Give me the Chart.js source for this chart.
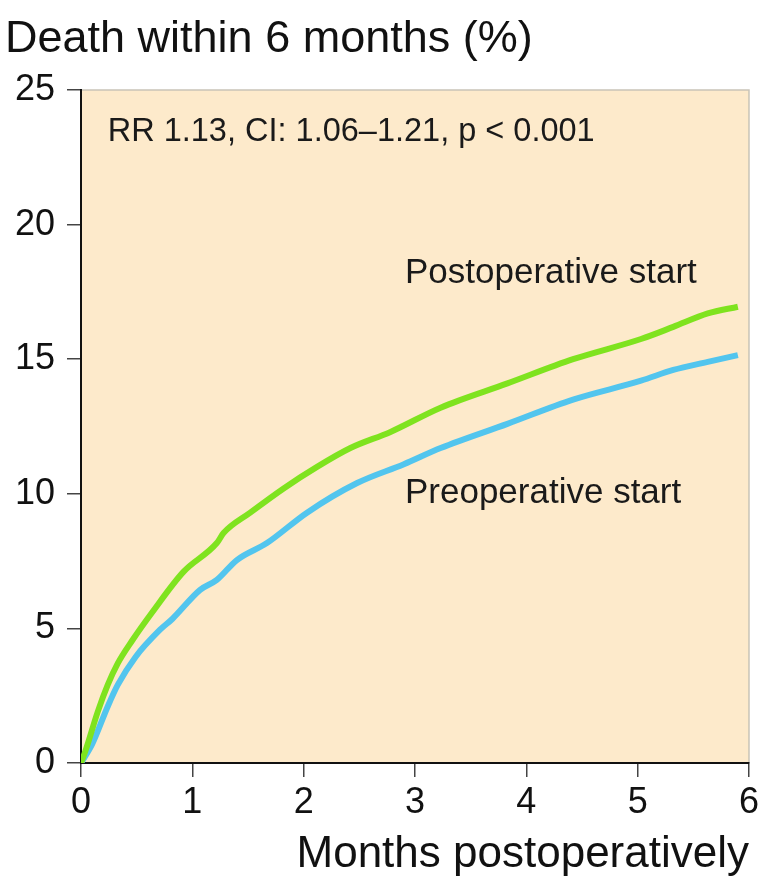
<!DOCTYPE html>
<html lang="en">
<head>
  <meta charset="UTF-8">
  <title>Death within 6 months</title>
  <script src="https://cdn.jsdelivr.net/npm/chart.js"></script>
  <style>
    body { margin: 0; background: #fff; }
  </style>
</head>
<body>
  <canvas id="deathChart" width="763" height="877"></canvas>
  <script>
    // Values (months, % dead)
    const postMonths = [0, 0.04, 0.15, 0.24, 0.33, 0.46, 0.64, 0.92, 1.22, 1.28, 1.52, 1.82, 2.12, 2.42, 2.78, 3.23, 3.83, 4.42, 5.03, 5.32, 5.63, 5.9];
    const postValues = [0, 0.45, 1.9, 2.9, 3.7, 4.55, 5.6, 7.1, 8.17, 8.54, 9.3, 10.2, 11.0, 11.7, 12.3, 13.2, 14.1, 15.0, 15.75, 16.2, 16.7, 16.95];
    const preMonths = [0, 0.1, 0.24, 0.33, 0.49, 0.71, 0.82, 1.07, 1.22, 1.4, 1.67, 2.03, 2.48, 2.9, 3.23, 3.83, 4.42, 5.03, 5.32, 5.63, 5.9];
    const preValues = [0, 0.7, 2.1, 2.9, 3.94, 4.95, 5.35, 6.43, 6.8, 7.54, 8.17, 9.3, 10.4, 11.1, 11.7, 12.6, 13.5, 14.2, 14.6, 14.9, 15.15];

    const xTicks = [0, 1, 2, 3, 4, 5, 6];
    const yTicks = [0, 5, 10, 15, 20, 25];

    // text notes placed in data coordinates
    const notes = [
      { text: 'RR 1.13, CI: 1.06\u20131.21, p < 0.001', x: 0.24, y: 23.45, size: 32.5 },
      { text: 'Postoperative start', x: 2.91, y: 18.2, size: 35 },
      { text: 'Preoperative start', x: 2.91, y: 10.03, size: 35 }
    ];

    const FONT = 'Liberation Sans, Arial, sans-serif';

    function toPoints(xs, ys) {
      return xs.map((x, i) => ({ x: x, y: ys[i] }));
    }

    // beige plot area + light frame on top/right, then the notes
    const plotFrame = {
      id: 'plotFrame',
      beforeDraw(chart) {
        const { ctx, chartArea: a } = chart;
        ctx.save();
        ctx.fillStyle = '#fdeacb';
        ctx.fillRect(a.left, a.top, a.right - a.left, a.bottom - a.top);
        ctx.strokeStyle = '#c9c4b8';
        ctx.lineWidth = 1.5;
        ctx.beginPath();
        ctx.moveTo(a.left, a.top);
        ctx.lineTo(a.right, a.top);
        ctx.lineTo(a.right, a.bottom);
        ctx.stroke();
        ctx.restore();
      },
      afterDatasetsDraw(chart) {
        const { ctx, scales } = chart;
        ctx.save();
        ctx.fillStyle = '#1a1a1a';
        ctx.textBaseline = 'middle';
        notes.forEach(n => {
          ctx.font = n.size + 'px ' + FONT;
          ctx.fillText(n.text, scales.x.getPixelForValue(n.x), scales.y.getPixelForValue(n.y));
        });
        ctx.restore();
      }
    };

    new Chart(document.getElementById('deathChart'), {
      type: 'line',
      data: {
        datasets: [
          {
            label: 'Postoperative start',
            data: toPoints(postMonths, postValues),
            borderColor: '#7fe31f',
            borderWidth: 6,
            pointRadius: 0,
            cubicInterpolationMode: 'monotone'
          },
          {
            label: 'Preoperative start',
            data: toPoints(preMonths, preValues),
            borderColor: '#52c5ee',
            borderWidth: 6,
            pointRadius: 0,
            cubicInterpolationMode: 'monotone'
          }
        ]
      },
      options: {
        responsive: false,
        animation: false,
        layout: { padding: { left: 5, right: 13, top: 0, bottom: 0 } },
        plugins: {
          legend: { display: false },
          tooltip: { enabled: false },
          title: {
            display: true,
            text: 'Death within 6 months (%)',
            align: 'start',
            color: '#111',
            font: { family: FONT, size: 45, weight: 'normal', lineHeight: 1.2 },
            padding: { top: 13, bottom: 23 }
          }
        },
        scales: {
          x: {
            type: 'linear',
            min: 0,
            max: 6,
            afterBuildTicks(scale) { scale.ticks = xTicks.map(v => ({ value: v })); },
            afterFit(scale) { scale.height = 114; },
            grid: { drawOnChartArea: false, tickLength: 14, color: '#444', lineWidth: 1.5 },
            border: { color: '#111', width: 2 },
            ticks: { color: '#111', font: { family: FONT, size: 36 }, padding: 4 },
            title: {
              display: true,
              text: 'Months postoperatively',
              align: 'end',
              color: '#111',
              font: { family: FONT, size: 44, lineHeight: 1 },
              padding: { top: 0, bottom: 0 }
            }
          },
          y: {
            min: 0,
            max: 25,
            afterBuildTicks(scale) { scale.ticks = yTicks.map(v => ({ value: v })); },
            afterFit(scale) { scale.width = 76; },
            grid: { drawOnChartArea: false, tickLength: 14, color: '#444', lineWidth: 1.5 },
            border: { color: '#111', width: 2 },
            ticks: { color: '#111', font: { family: FONT, size: 36 }, padding: 12 }
          }
        }
      },
      plugins: [plotFrame]
    });
  </script>
</body>
</html>
